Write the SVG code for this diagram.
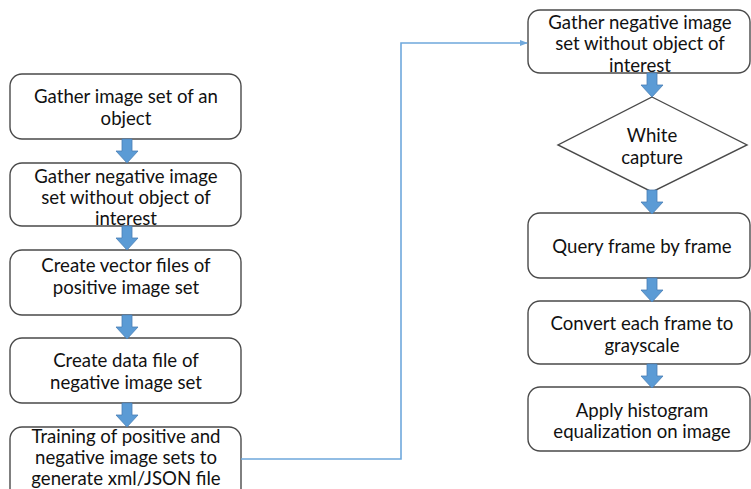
<svg xmlns="http://www.w3.org/2000/svg" width="751" height="489" viewBox="0 0 751 489">
  <style>
    .box { fill: #ffffff; stroke: #4a4a4a; stroke-width: 1.4; }
    .lbl { font-family: Lato, "Liberation Sans", sans-serif; font-size: 18.6px; fill: #111111; text-anchor: middle; dominant-baseline: central; }
    .down { fill: #5b9bd5; stroke: #4a7fb5; stroke-width: 0.8; }
    .link { fill: none; stroke: #6fa8dc; stroke-width: 1.6; }
  </style>
  <defs>
    <marker id="tip" viewBox="0 0 10 10" refX="9" refY="5" markerWidth="5" markerHeight="5" orient="auto">
      <path d="M0,1 L10,5 L0,9 Z" fill="#6fa8dc"/>
    </marker>
    <!-- block arrow pointing down, origin at the top centre, 24 px tall -->
    <path id="blk" d="M-5,0 H5 V12 H11 L0,24 L-11,12 H-5 Z"/>
  </defs>

  <!-- left column -->
  <g id="n1">
    <rect class="box" x="10" y="74" width="231" height="65" rx="12"/>
    <text class="lbl" x="126" y="96">Gather image set of an</text>
    <text class="lbl" x="126" y="118">object</text>
  </g>
  <g id="n2">
    <rect class="box" x="10" y="163" width="231" height="63" rx="12"/>
    <text class="lbl" x="126" y="176">Gather negative image</text>
    <text class="lbl" x="126" y="197">set without object of</text>
    <text class="lbl" x="126" y="218">interest</text>
  </g>
  <g id="n3">
    <rect class="box" x="10" y="250" width="231" height="65" rx="12"/>
    <text class="lbl" x="126" y="265">Create vector files of</text>
    <text class="lbl" x="126" y="287">positive image set</text>
  </g>
  <g id="n4">
    <rect class="box" x="10" y="338" width="231" height="65" rx="12"/>
    <text class="lbl" x="126" y="360">Create data file of</text>
    <text class="lbl" x="126" y="382">negative image set</text>
  </g>
  <g id="n5">
    <rect class="box" x="10" y="427" width="231" height="75" rx="12"/>
    <text class="lbl" x="126" y="436">Training of positive and</text>
    <text class="lbl" x="126" y="457">negative image sets to</text>
    <text class="lbl" x="126" y="478">generate xml/JSON file</text>
  </g>

  <!-- right column -->
  <g id="n6">
    <rect class="box" x="528" y="10" width="222" height="63" rx="12"/>
    <text class="lbl" x="640" y="22">Gather negative image</text>
    <text class="lbl" x="640" y="43">set without object of</text>
    <text class="lbl" x="640" y="65">interest</text>
  </g>
  <g id="n7">
    <polygon class="box" points="652,97 747,145 652,192 558,145"/>
    <text class="lbl" x="652" y="135">White</text>
    <text class="lbl" x="652" y="157">capture</text>
  </g>
  <g id="n8">
    <rect class="box" x="528" y="213" width="222" height="65" rx="12"/>
    <text class="lbl" x="642" y="246">Query frame by frame</text>
  </g>
  <g id="n9">
    <rect class="box" x="528" y="301" width="222" height="63" rx="12"/>
    <text class="lbl" x="642" y="323">Convert each frame to</text>
    <text class="lbl" x="642" y="345">grayscale</text>
  </g>
  <g id="n10">
    <rect class="box" x="528" y="387" width="222" height="64" rx="12"/>
    <text class="lbl" x="642" y="410">Apply histogram</text>
    <text class="lbl" x="642" y="431">equalization on image</text>
  </g>

  <!-- connectors -->
  <g id="connectors">
    <use href="#blk" class="down" x="127" y="139"/>
    <use href="#blk" class="down" x="127" y="226"/>
    <use href="#blk" class="down" x="127" y="315"/>
    <use href="#blk" class="down" x="127" y="403"/>
    <use href="#blk" class="down" x="652" y="73"/>
    <use href="#blk" class="down" x="652" y="190"/>
    <use href="#blk" class="down" x="652" y="278"/>
    <use href="#blk" class="down" x="652" y="364"/>
    <path class="link" d="M241,459 H401 V43 H527" marker-end="url(#tip)"/>
  </g>
</svg>
